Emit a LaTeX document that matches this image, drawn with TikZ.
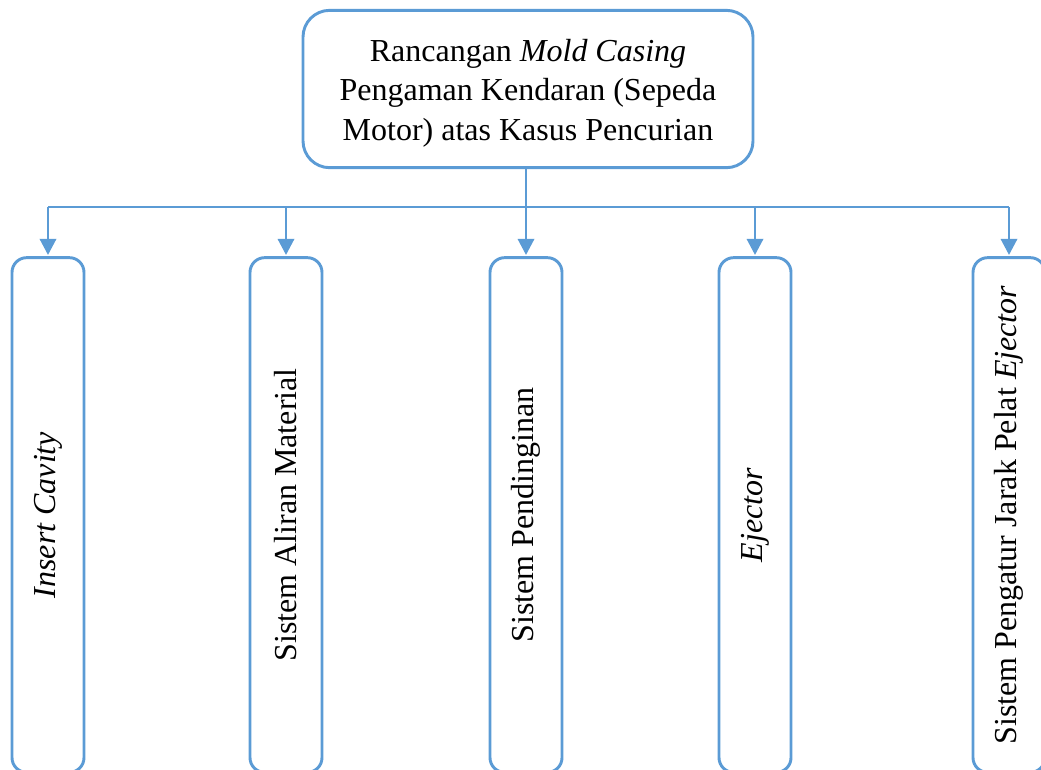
\documentclass[tikz,border=0pt]{standalone}
\usepackage{fontspec}
\setmainfont{Liberation Serif}
\usetikzlibrary{arrows.meta}
\definecolor{lineblue}{HTML}{5B9BD5}
\tikzset{
  topbox/.style={draw=lineblue, line width=2.2pt, rounded corners=20pt,
    minimum width=337.5pt, minimum height=118pt, inner sep=0pt},
  toptext/.style={align=center, inner sep=0pt,
    font=\fontsize{24pt}{29.5pt}\selectfont},
  lbox/.style={draw=lineblue, line width=2.2pt, rounded corners=11pt, rotate=90,
    minimum width=386pt, minimum height=54pt, inner sep=0pt,
    font=\fontsize{24pt}{29pt}\selectfont},
  conn/.style={draw=lineblue, line width=1pt},
  arr/.style={conn, -{Triangle[width=12.5pt, length=12pt]}, shorten >=1pt}
}
\begin{document}
\begin{tikzpicture}[x=0.75pt, y=-0.75pt]
\useasboundingbox (0,0) rectangle (1041,769);
\clip (0,0) rectangle (1041,769);
\node[topbox] (top) at (528,89) {};
\node[toptext] (toplabel) at (528,93) {Rancangan \textit{Mold Casing}\\Pengaman Kendaran (Sepeda\\Motor) atas Kasus Pencurian};
\node[lbox] (b1) at (48,515) {\textit{Insert Cavity}};
\node[lbox] (b2) at (286,515) {Sistem Aliran Material};
\node[lbox] (b3) at (526,515) {Sistem Pendinginan};
\node[lbox] (b4) at (755,515) {\textit{Ejector}};
\node[lbox] (b5) at (1009,515) {Sistem Pengatur Jarak Pelat \textit{Ejector}};
\coordinate (j) at (526,207);
\draw[conn] (top.south -| j) -- (j);
\draw[conn] (b1.east |- j) -- (b5.east |- j);
\foreach \b in {b1,b2,b3,b4,b5}{
  \draw[arr] (\b.east |- j) -- (\b.east);
}
\end{tikzpicture}
\end{document}
